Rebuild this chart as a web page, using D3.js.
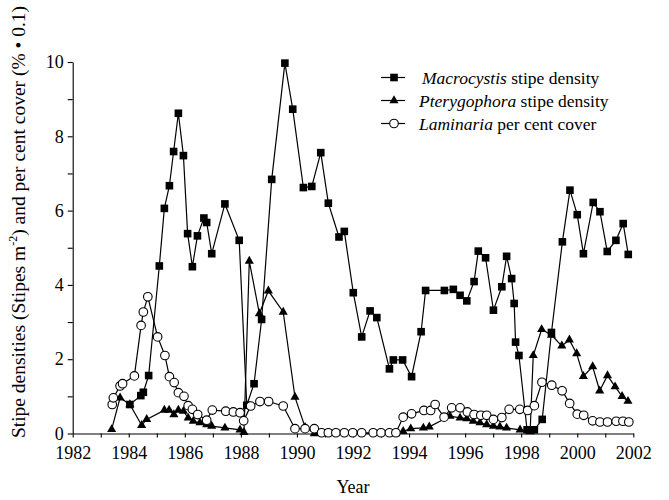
<!DOCTYPE html>
<html>
<head>
<meta charset="utf-8">
<script src="https://cdn.jsdelivr.net/npm/d3@7"></script>
<style>
  body { margin: 0; background: #fff; }
  svg text { font-family: "Liberation Serif", "Times New Roman", serif; fill: #000; }
</style>
</head>
<body>
<div id="chart"></div>
<script>
// Macrocystis stipe density (squares)
const macroYear = [1984.04, 1984.43, 1984.52, 1984.71, 1985.09, 1985.27, 1985.45, 1985.60, 1985.77, 1985.95,
  1986.10, 1986.27, 1986.45, 1986.68, 1986.78, 1986.96, 1987.43, 1987.94, 1988.21, 1988.47,
  1988.74, 1989.10, 1989.57, 1989.85, 1990.23, 1990.53, 1990.85, 1991.12, 1991.50, 1991.69,
  1992.01, 1992.31, 1992.61, 1992.85, 1993.30, 1993.44, 1993.77, 1994.09, 1994.43, 1994.59,
  1995.26, 1995.58, 1995.82, 1996.06, 1996.32, 1996.47, 1996.73, 1997.01, 1997.31, 1997.48,
  1997.66, 1997.75, 1997.80, 1997.92, 1998.21, 1998.47, 1998.75, 1999.08, 1999.47, 1999.74,
  2000.00, 2000.22, 2000.57, 2000.81, 2001.07, 2001.38, 2001.64, 2001.82];
const macroVal = [0.78, 1.02, 1.11, 1.56, 4.51, 6.06, 6.67, 7.59, 8.62, 7.48,
  5.38, 4.49, 5.32, 5.8, 5.68, 4.84, 6.18, 5.2, 0.76, 1.34,
  3.07, 6.84, 9.97, 8.73, 6.62, 6.65, 7.56, 6.2, 5.29, 5.44,
  3.79, 2.6, 3.3, 3.12, 1.74, 1.98, 1.98, 1.53, 2.74, 3.85,
  3.85, 3.88, 3.72, 3.57, 4.09, 4.91, 4.73, 3.32, 3.95, 4.77,
  4.17, 3.5, 2.46, 2.1, 0.1, 0.1, 0.38, 2.72, 5.16, 6.55,
  5.89, 4.84, 6.22, 5.97, 4.9, 5.2, 5.65, 4.82];

// Pterygophora stipe density (triangles)
const pteryYear = [1983.39, 1983.69, 1984.04, 1984.46, 1984.64, 1985.27, 1985.44, 1985.61, 1985.77, 1985.95,
  1986.12, 1986.30, 1986.54, 1986.78, 1986.96, 1987.43, 1987.97, 1988.11, 1988.30, 1988.66,
  1988.98, 1989.51, 1989.93, 1990.29, 1990.62, 1993.53, 1993.79, 1994.06, 1994.51, 1994.72,
  1995.46, 1995.82, 1996.06, 1996.29, 1996.53, 1996.77, 1997.01, 1997.24, 1997.48, 1997.96,
  1998.32, 1998.43, 1998.73, 1999.08, 1999.45, 1999.72, 1999.98, 2000.22, 2000.55, 2000.80,
  2001.08, 2001.35, 2001.60, 2001.81];
const pteryVal = [0.11, 0.96, 0.78, 0.22, 0.38, 0.63, 0.63, 0.51, 0.63, 0.6,
  0.42, 0.33, 0.29, 0.24, 0.2, 0.15, 0.1, 0.03, 4.64, 3.23,
  3.84, 3.27, 0.98, 0.17, 0, 0, 0.06, 0.13, 0.15, 0.18,
  0.47, 0.42, 0.4, 0.33, 0.29, 0.24, 0.2, 0.18, 0.15, 0.1,
  0.05, 2.1, 2.8, 2.65, 2.36, 2.52, 2.15, 1.54, 1.8, 1.15,
  1.56, 1.26, 1.0, 0.87];

// Laminaria per cent cover (open circles)
const lamYear = [1983.41, 1983.45, 1983.69, 1983.78, 1984.20, 1984.44, 1984.52, 1984.68, 1985.03, 1985.29,
  1985.45, 1985.62, 1985.77, 1985.97, 1986.12, 1986.27, 1986.46, 1986.78, 1986.98, 1987.46,
  1987.73, 1987.97, 1988.10, 1988.35, 1988.68, 1988.99, 1989.51, 1989.93, 1990.29, 1990.62,
  1990.88, 1991.12, 1991.39, 1991.69, 1991.99, 1992.31, 1992.72, 1993.00, 1993.30, 1993.53,
  1993.79, 1994.09, 1994.53, 1994.77, 1994.93, 1995.25, 1995.52, 1995.82, 1996.08, 1996.32,
  1996.56, 1996.77, 1997.01, 1997.31, 1997.57, 1997.95, 1998.23, 1998.47, 1998.74, 1999.09,
  1999.46, 1999.73, 2000.00, 2000.23, 2000.55, 2000.81, 2001.08, 2001.39, 2001.63, 2001.84];
const lamVal = [0.78, 0.96, 1.28, 1.34, 1.55, 2.91, 3.27, 3.68, 2.6, 2.1,
  1.53, 1.37, 1.1, 1.0, 0.75, 0.65, 0.51, 0.36, 0.63, 0.6,
  0.58, 0.56, 0.34, 0.74, 0.86, 0.86, 0.74, 0.13, 0.13, 0.13,
  0.02, 0.02, 0.02, 0.02, 0.02, 0.02, 0.02, 0.02, 0.02, 0.02,
  0.44, 0.53, 0.62, 0.62, 0.78, 0.44, 0.69, 0.69, 0.58, 0.51,
  0.49, 0.49, 0.38, 0.43, 0.65, 0.65, 0.62, 0.75, 1.38, 1.3,
  1.15, 0.81, 0.52, 0.49, 0.34, 0.31, 0.31, 0.33, 0.33, 0.31];

const xTicks = d3.range(1982, 2003);
const yTicks = d3.range(0, 11);

const width = 669, height = 500;
const svg = d3.select("#chart").append("svg").attr("width", width).attr("height", height);

const x = d3.scaleLinear().domain([1982, 2002]).range([72.7, 633.3]);
const y = d3.scaleLinear().domain([0, 10]).range([433.5, 62]);

// axes
const xAxis = svg.append("g")
  .attr("transform", `translate(0,${y(0)})`)
  .call(d3.axisBottom(x).tickValues(xTicks).tickSize(4).tickSizeOuter(0)
    .tickFormat(d => d % 2 === 0 ? d : ""));
xAxis.selectAll("text").attr("font-size", 18).attr("dy", "1.0em");

const yAxis = svg.append("g")
  .attr("transform", `translate(${x(1982)},0)`)
  .call(d3.axisLeft(y).tickValues(yTicks).tickSize(5).tickSizeOuter(0)
    .tickFormat(d => d % 2 === 0 ? d : ""));
yAxis.selectAll("text").attr("font-size", 18).attr("x", -9);

svg.selectAll(".domain, .tick line").attr("stroke", "#000").attr("stroke-width", 1.1);

// series
const line = d3.line().x(d => x(d[0])).y(d => y(d[1]));
const series = [
  { name: "Macrocystis", rest: " stipe density", data: d3.zip(macroYear, macroVal), shape: "square" },
  { name: "Pterygophora", rest: " stipe density", data: d3.zip(pteryYear, pteryVal), shape: "triangle" },
  { name: "Laminaria", rest: " per cent cover", data: d3.zip(lamYear, lamVal), shape: "circle" }
];

function drawMarker(g, shape, cx, cy) {
  if (shape === "square") {
    g.append("rect").attr("x", cx - 3.8).attr("y", cy - 3.8).attr("width", 7.6).attr("height", 7.6).attr("fill", "#000");
  } else if (shape === "triangle") {
    g.append("path").attr("d", d3.symbol(d3.symbolTriangle, 36)()).attr("transform", `translate(${cx},${cy})`).attr("fill", "#000");
  } else {
    g.append("circle").attr("cx", cx).attr("cy", cy).attr("r", 4.3).attr("fill", "#fff").attr("stroke", "#000").attr("stroke-width", 1.1);
  }
}

series.forEach(s => {
  const g = svg.append("g");
  g.append("path").datum(s.data).attr("d", line).attr("fill", "none").attr("stroke", "#000").attr("stroke-width", 1.2);
  s.data.forEach(d => drawMarker(g, s.shape, x(d[0]), y(d[1])));
});

// legend
const legendY = [77.5, 100.5, 123.5];
series.forEach((s, i) => {
  const g = svg.append("g");
  g.append("line").attr("x1", 381).attr("x2", 405).attr("y1", legendY[i]).attr("y2", legendY[i])
    .attr("stroke", "#000").attr("stroke-width", 1.2);
  drawMarker(g, s.shape, 394, legendY[i]);
  const t = g.append("text").attr("x", i === 0 ? 422 : 419).attr("y", legendY[i]).attr("dy", "0.35em").attr("font-size", 17.5);
  t.append("tspan").attr("font-style", "italic").text(s.name);
  t.append("tspan").text(s.rest);
});

// axis titles
svg.append("text").attr("x", x(1992)).attr("y", 493).attr("text-anchor", "middle").attr("font-size", 18).text("Year");

const yt = svg.append("text").attr("transform", "translate(25,222) rotate(-90)")
  .attr("text-anchor", "middle").attr("font-size", 19.5);
yt.append("tspan").text("Stipe densities (Stipes m");
yt.append("tspan").attr("font-size", 12).attr("dy", -8).text("-2");
yt.append("tspan").attr("dy", 8).text(") and per cent cover (% \u2022 0.1)");
</script>
</body>
</html>
